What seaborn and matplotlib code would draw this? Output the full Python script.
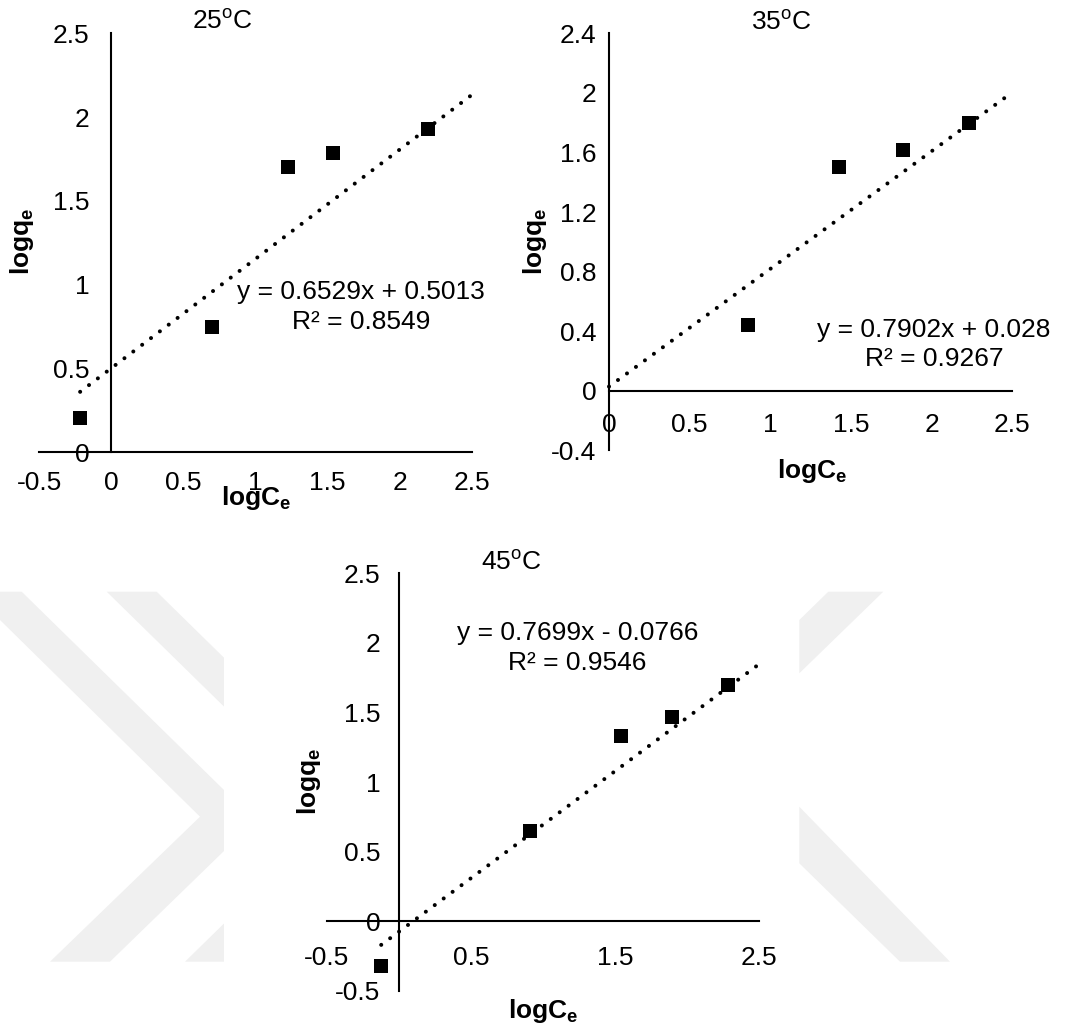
import numpy as np
import matplotlib
matplotlib.use("Agg")
import matplotlib.pyplot as plt
import seaborn as sns
import pandas as pd
from matplotlib.patches import Polygon
from matplotlib.ticker import FuncFormatter

# ---------------- data ----------------
temps = ["25", "35", "45"]

logCe_25 = [-0.215, 0.70, 1.222, 1.54, 2.195]
logqe_25 = [0.202, 0.745, 1.705, 1.785, 1.93]

logCe_35 = [0.864, 1.426, 1.825, 2.234]
logqe_35 = [0.441, 1.503, 1.615, 1.80]

logCe_45 = [-0.122, 0.913, 1.544, 1.895, 2.284]
logqe_45 = [-0.324, 0.649, 1.334, 1.466, 1.694]

slopes = [0.6529, 0.7902, 0.7699]
intercepts = [0.5013, 0.028, -0.0766]
r_squared = [0.8549, 0.9267, 0.9546]
trend_start = [-0.215, 0.0, -0.122]
trend_end = [2.5, 2.5, 2.5]

xticks_all = [[-0.5, 0, 0.5, 1, 1.5, 2, 2.5],
              [0, 0.5, 1, 1.5, 2, 2.5],
              [-0.5, 0.5, 1.5, 2.5]]
yticks_all = [[0, 0.5, 1, 1.5, 2, 2.5],
              [-0.4, 0, 0.4, 0.8, 1.2, 1.6, 2, 2.4],
              [-0.5, 0, 0.5, 1, 1.5, 2, 2.5]]

# ---------------- style ----------------
sns.set_style("white")
plt.rcParams["font.family"] = ["Liberation Sans", "DejaVu Sans"]
plt.rcParams["mathtext.fontset"] = "custom"
plt.rcParams["mathtext.rm"] = "Liberation Sans"
plt.rcParams["mathtext.it"] = "Liberation Sans:italic"
plt.rcParams["mathtext.bf"] = "Liberation Sans:bold"
plt.rcParams["axes.unicode_minus"] = False
for k in ["text.color", "axes.labelcolor", "xtick.color", "ytick.color", "axes.edgecolor"]:
    plt.rcParams[k] = "black"

W, H = 1091, 1034
fig = plt.figure(figsize=(W / 100, H / 100), dpi=100)
fig.patch.set_facecolor("white")


def fx(px):
    return px / W


def fy(py):
    return 1 - py / H


def add_axes_px(x0, x1, ytop, ybot):
    return fig.add_axes([fx(x0), fy(ybot), (x1 - x0) / W, (ybot - ytop) / H])


# ---------------- watermark ----------------
wm_color = "#f0f0f0"
wm_polys = [
    [(0, 591.7), (21.7, 591.7), (224, 790), (224, 851), (110, 961.7), (50, 961.7), (200, 816.7), (0, 620)],
    [(106.7, 591.7), (156.7, 591.7), (224, 657.7), (224, 706.6)],
    [(185, 961.7), (224, 923.5), (224, 961.7)],
    [(828.3, 591.7), (883.3, 591.7), (799.3, 673.3), (799.3, 620)],
    [(799.3, 806.7), (950, 961.7), (900, 961.7), (799.3, 863.3)],
]
for poly in wm_polys:
    pts = [(fx(a), fy(b)) for a, b in poly]
    fig.patches.append(Polygon(pts, closed=True, facecolor=wm_color, edgecolor="none",
                               transform=fig.transFigure, figure=fig, zorder=-2))

# ---------------- panels ----------------
axes_px = [(39, 472, 33.3, 452.3), (609, 1012.3, 33.3, 450.3), (326.7, 759.3, 573.3, 990.7)]
xlims = [(-0.5, 2.5), (0, 2.5), (-0.5, 2.5)]
ylims = [(0, 2.5), (-0.4, 2.4), (-0.5, 2.5)]
xpads = [8.0, 10.0, 12.0]
ypads = [10.0, 3.3, 7.6]
data = [(logCe_25, logqe_25), (logCe_35, logqe_35), (logCe_45, logqe_45)]

title_pos = [(222, 29.3), (781, 30), (511, 569.3)]
xlabel_pos = [(256, 505), (812, 478.3), (543, 1018)]
ylabel_pos = [(21.7, 241.7), (535, 241), (309, 781.7)]
eq_pos = [(361, 299.3, 329.3), (934, 336.7, 366), (577.5, 640, 670)]

fmt = FuncFormatter(lambda v, p: f"{v:g}")
FS = 19

for i in range(3):
    ax = add_axes_px(*axes_px[i])
    ax.patch.set_visible(False)
    xs, ys = data[i]
    df = pd.DataFrame({"logCe": xs, "logqe": ys})

    # trendline (from displayed regression equation)
    xt = np.array([trend_start[i], trend_end[i]])
    yt = slopes[i] * xt + intercepts[i]
    ax.plot(xt, yt, color="black", lw=2.9, linestyle=(0, (0.01, 2.75)),
            dash_capstyle="round", zorder=2, clip_on=False)

    sns.scatterplot(data=df, x="logCe", y="logqe", ax=ax, marker="s", s=105,
                    color="black", edgecolor="black", linewidth=0, zorder=3,
                    clip_on=False)

    ax.set_xlim(*xlims[i])
    ax.set_ylim(*ylims[i])
    ax.set_xticks(xticks_all[i])
    ax.set_yticks(yticks_all[i])
    ax.xaxis.set_major_formatter(fmt)
    ax.yaxis.set_major_formatter(fmt)
    ax.set_xlabel("")
    ax.set_ylabel("")

    for s in ["top", "right"]:
        ax.spines[s].set_visible(False)
    ax.spines["left"].set_position(("data", 0))
    ax.spines["bottom"].set_position(("data", 0))
    for s in ["left", "bottom"]:
        ax.spines[s].set_linewidth(1.5)
        ax.spines[s].set_color("black")

    ax.tick_params(axis="both", direction="out", length=5.8, width=1.5,
                   colors="black", labelsize=FS)
    ax.tick_params(axis="x", pad=xpads[i])
    ax.tick_params(axis="y", pad=ypads[i])

    # title
    tx, ty = title_pos[i]
    fig.text(fx(tx), fy(ty), temps[i] + r"$^{\mathrm{o}}$C", fontsize=FS,
             ha="center", va="baseline", color="black")
    # axis labels
    lx, ly = xlabel_pos[i]
    fig.text(fx(lx), fy(ly), r"$\mathbf{logC}_{\mathbf{e}}$", fontsize=FS,
             ha="center", va="baseline", color="black")
    qx, qy = ylabel_pos[i]
    fig.text(fx(qx), fy(qy), r"$\mathbf{logq}_{\mathbf{e}}$", fontsize=FS,
             ha="center", va="center", rotation=90, color="black")
    # equation
    a, b = slopes[i], intercepts[i]
    sign = "+" if b >= 0 else "-"
    ex, e1, e2 = eq_pos[i]
    fig.text(fx(ex), fy(e1), f"y = {a:g}x {sign} {abs(b):g}", fontsize=FS,
             ha="center", va="baseline", color="black")
    fig.text(fx(ex), fy(e2), f"R\u00b2 = {r_squared[i]:g}", fontsize=FS,
             ha="center", va="baseline", color="black")

fig.savefig("out.png", dpi=100)
